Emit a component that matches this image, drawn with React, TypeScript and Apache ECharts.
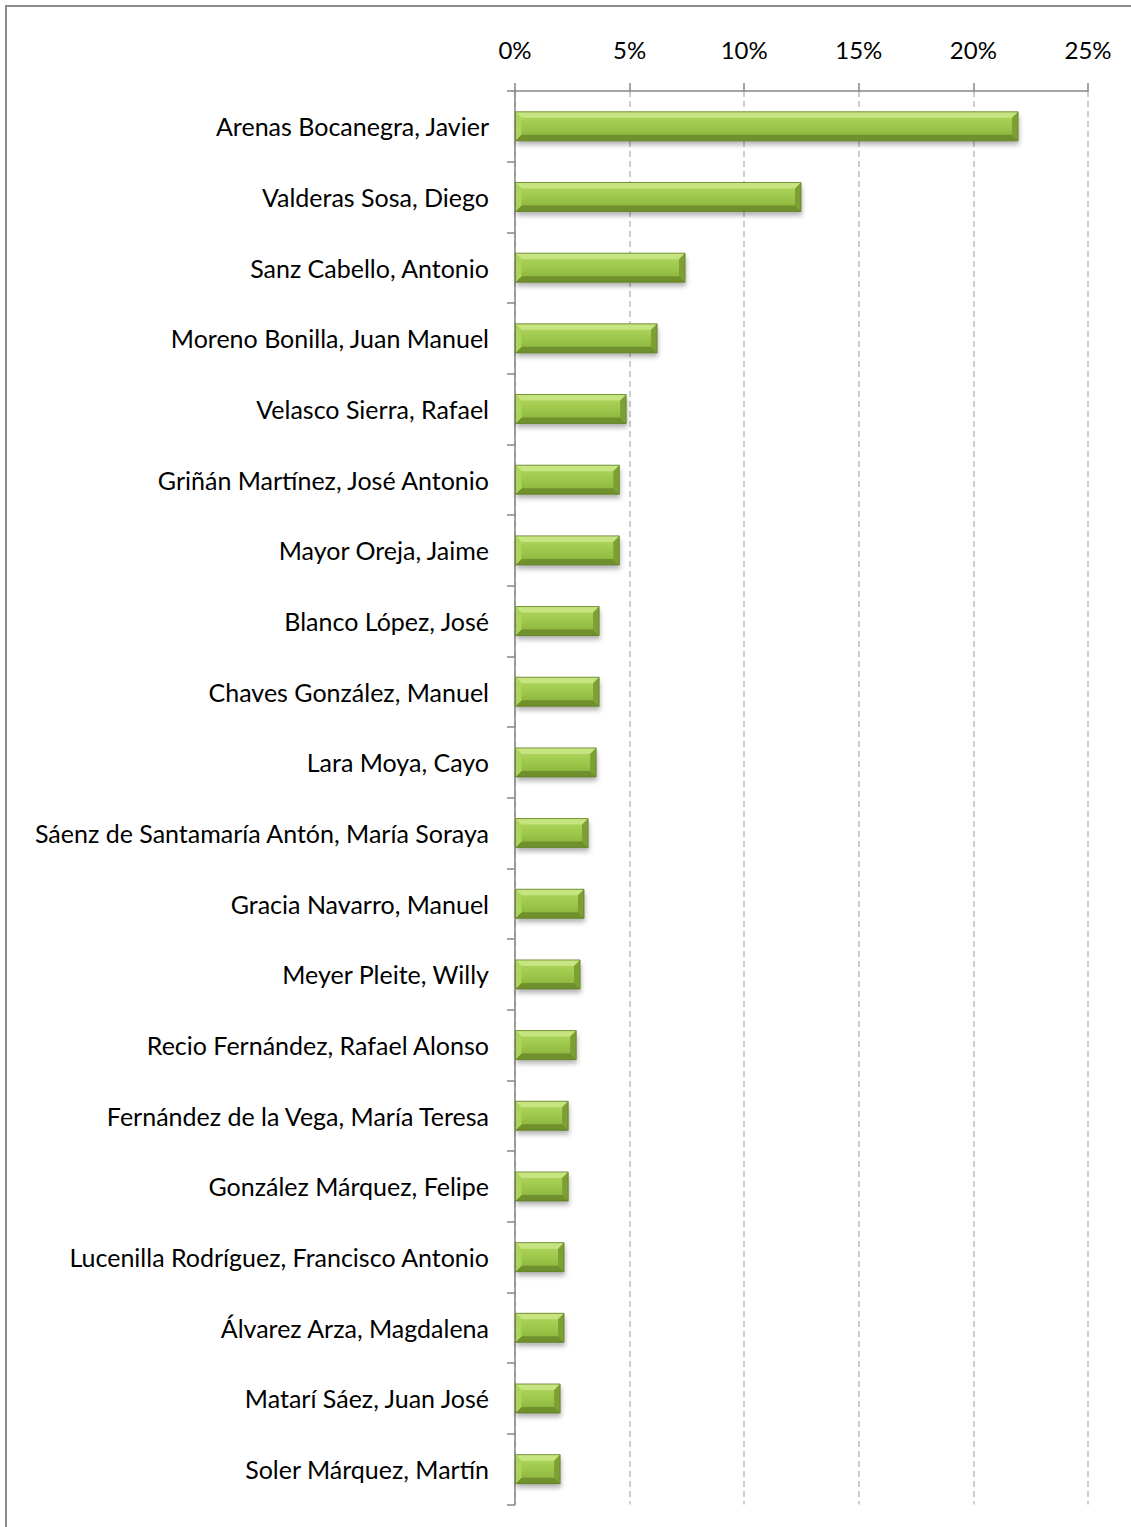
import React, { useEffect, useRef } from "react";
import * as echarts from "echarts";

const categories = [
  "Arenas Bocanegra, Javier",
  "Valderas Sosa, Diego",
  "Sanz Cabello, Antonio",
  "Moreno Bonilla, Juan Manuel",
  "Velasco Sierra, Rafael",
  "Griñán Martínez, José Antonio",
  "Mayor Oreja, Jaime",
  "Blanco López, José",
  "Chaves González, Manuel",
  "Lara Moya, Cayo",
  "Sáenz de Santamaría Antón, María Soraya",
  "Gracia Navarro, Manuel",
  "Meyer Pleite, Willy",
  "Recio Fernández, Rafael Alonso",
  "Fernández de la Vega, María Teresa",
  "González Márquez, Felipe",
  "Lucenilla Rodríguez, Francisco Antonio",
  "Álvarez Arza, Magdalena",
  "Matarí Sáez, Juan José",
  "Soler Márquez, Martín",
];

const shares = [
  0.2195, 0.1248, 0.0742, 0.062, 0.0485, 0.0455, 0.0455, 0.0367, 0.0367, 0.0354,
  0.0319, 0.0301, 0.0284, 0.0267, 0.0232, 0.0232, 0.0214, 0.0214, 0.0197, 0.0197,
];

const tickLabels = ["0%", "5%", "10%", "15%", "20%", "25%"];

const FONT = "Lato";

export default function App() {
  const ref = useRef<HTMLDivElement>(null);
  useEffect(() => {
    document.body.style.margin = "0";
    const chart = echarts.init(ref.current!, null, { renderer: "svg" });
    const barH = 29;
    const b = 6;
    chart.setOption({
      animation: false,
      backgroundColor: "#ffffff",
      graphic: [
        {
          type: "rect",
          shape: { x: 6, y: 6, width: 1200, height: 1600 },
          style: { fill: "none", stroke: "#8c8c8c", lineWidth: 2 },
          silent: true,
        },
      ],
      grid: { left: 515, top: 91, right: 43, bottom: 22.5 },
      xAxis: {
        type: "value",
        position: "top",
        min: 0,
        max: 0.25,
        interval: 0.05,
        axisLine: { show: true, lineStyle: { color: "#868686", width: 1.5 } },
        axisTick: { show: true, inside: false, length: 8, lineStyle: { color: "#868686", width: 1.5 } },
        axisLabel: {
          margin: 30,
          fontFamily: FONT,
          fontSize: 24,
          color: "#000",
          formatter: (v: number) => tickLabels[Math.round(v / 0.05)],
        },
        splitLine: { show: true, lineStyle: { color: "#bfbfbf", type: [6, 4], width: 1.5 } },
      },
      yAxis: {
        type: "category",
        data: categories,
        inverse: true,
        axisLine: { show: true, lineStyle: { color: "#868686", width: 1.5 } },
        axisTick: { show: true, inside: false, length: 8, alignWithLabel: false, lineStyle: { color: "#868686", width: 1.5 } },
        axisLabel: { margin: 26, fontFamily: FONT, fontSize: 25, color: "#000" },
      },
      series: [
        {
          type: "custom",
          data: shares.map((v, i) => [v, i]),
          encode: { x: 0, y: 1 },
          renderItem: (params: any, api: any) => {
            const v = api.value(0);
            const i = api.value(1);
            const p0 = api.coord([0, i]);
            const p1 = api.coord([v, i]);
            const x0 = p0[0] + 0.5;
            const x1 = p1[0];
            const y = p0[1] - barH / 2;
            const h = barH;
            return {
              type: "group",
              children: [
                {
                  type: "rect",
                  shape: { x: x0, y, width: x1 - x0, height: h },
                  style: {
                    fill: new echarts.graphic.LinearGradient(0, 0, 0, 1, [
                      { offset: 0, color: "#b3d862" },
                      { offset: 0.5, color: "#9dc84b" },
                      { offset: 1, color: "#86af38" },
                    ]),
                    shadowBlur: 5,
                    shadowOffsetX: 1,
                    shadowOffsetY: 4,
                    shadowColor: "rgba(0,0,0,0.3)",
                  },
                },
                {
                  type: "polygon",
                  shape: { points: [[x0, y], [x1, y], [x1 - b, y + b], [x0 + b, y + b]] },
                  style: { fill: "#c6e47f" },
                },
                {
                  type: "polygon",
                  shape: { points: [[x0, y + h], [x1, y + h], [x1 - b, y + h - b], [x0 + b, y + h - b]] },
                  style: { fill: "#6f902c" },
                },
                {
                  type: "polygon",
                  shape: { points: [[x0, y], [x0 + b, y + b], [x0 + b, y + h - b], [x0, y + h]] },
                  style: { fill: "#acd35b" },
                },
                {
                  type: "polygon",
                  shape: { points: [[x1, y], [x1 - b, y + b], [x1 - b, y + h - b], [x1, y + h]] },
                  style: { fill: "#7d9f34" },
                },
                {
                  type: "rect",
                  shape: { x: x0, y, width: x1 - x0, height: h },
                  style: { fill: "none", stroke: "#5f7d25", lineWidth: 0.8 },
                },
              ],
            };
          },
        },
      ],
    });
    return () => chart.dispose();
  }, []);
  return <div ref={ref} style={{ width: 1131, height: 1527 }} />;
}
